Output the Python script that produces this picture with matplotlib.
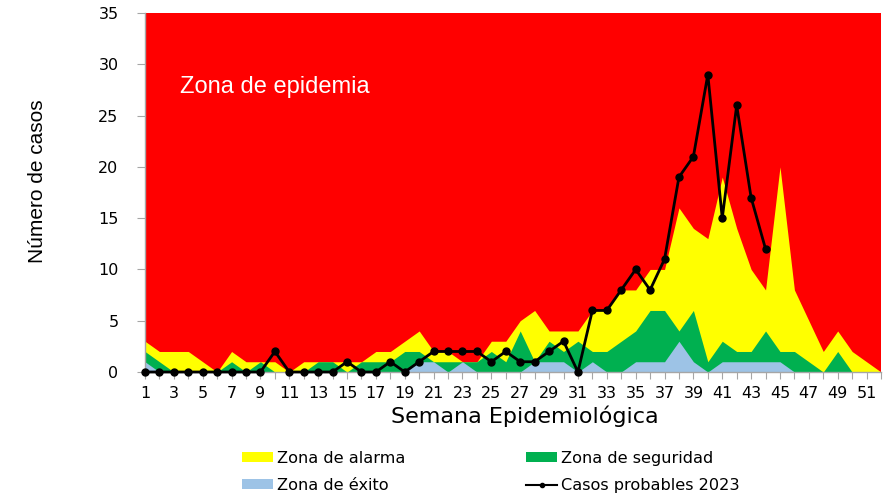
import numpy as np
import matplotlib
matplotlib.use("Agg")
import matplotlib.pyplot as plt
from matplotlib.patches import Patch
from matplotlib.lines import Line2D

# epidemiological weeks 1..52
semanas = np.arange(1, 53)

# upper limit of each zone of the endemic channel
zona_alarma = [3, 2, 2, 2, 1, 0, 2, 1, 1, 1, 0, 1, 1, 1, 1, 1, 2, 2, 3, 4,
               2, 2, 1, 1, 3, 3, 5, 6, 4, 4, 4, 6, 6, 8, 8, 10, 10, 16, 14, 13,
               19, 14, 10, 8, 20, 8, 5, 2, 4, 2, 1, 0]
zona_seguridad = [2, 1, 0, 0, 0, 0, 1, 0, 1, 0, 0, 0, 1, 1, 0, 1, 1, 1, 2, 2,
                  1, 1, 1, 1, 2, 1, 4, 1, 3, 2, 3, 2, 2, 3, 4, 6, 6, 4, 6, 1,
                  3, 2, 2, 4, 2, 2, 1, 0, 2, 0, 0, 0]
zona_exito = [1, 0, 0, 0, 0, 0, 0, 0, 0, 0, 0, 0, 0, 0, 0, 0, 0, 0, 0, 1,
              1, 0, 1, 0, 0, 0, 0, 1, 1, 1, 0, 1, 0, 0, 1, 1, 1, 3, 1, 0,
              1, 1, 1, 1, 1, 0, 0, 0, 0, 0, 0, 0]
techo_epidemia = 35

# probable cases 2023 (weeks 1..44)
semanas_2023 = np.arange(1, 45)
casos_2023 = [0, 0, 0, 0, 0, 0, 0, 0, 0, 2, 0, 0, 0, 0, 1, 0, 0, 1, 0, 1,
              2, 2, 2, 2, 1, 2, 1, 1, 2, 3, 0, 6, 6, 8, 10, 8, 11, 19, 21, 29,
              15, 26, 17, 12]

ROJO = "#FF0000"
AMARILLO = "#FFFF00"
VERDE = "#00B050"
AZUL = "#9DC3E6"
GRIS = "#A6A6A6"

fig = plt.figure(figsize=(8.94, 4.93), dpi=100)
ax = fig.add_axes([145 / 894, 1 - 372 / 493, 736 / 894, 359 / 493])

ax.fill_between(semanas, 0, techo_epidemia, color=ROJO, lw=0)
ax.fill_between(semanas, 0, zona_alarma, color=AMARILLO, lw=0)
ax.fill_between(semanas, 0, zona_seguridad, color=VERDE, lw=0)
ax.fill_between(semanas, 0, zona_exito, color=AZUL, lw=0)
ax.plot(semanas_2023, casos_2023, color="black", lw=2.0, marker="o",
        markersize=5, clip_on=False, zorder=5)

ax.set_xlim(1, 52)
ax.set_ylim(0, 35)
ax.set_yticks(range(0, 36, 5))
ax.set_xticks(semanas)
ax.set_xticklabels([str(s) if s % 2 == 1 else "" for s in semanas])

for side in ["top", "right"]:
    ax.spines[side].set_visible(False)
for side in ["left", "bottom"]:
    ax.spines[side].set_color(GRIS)
    ax.spines[side].set_linewidth(1.0)

ax.tick_params(axis="y", length=6, color=GRIS, pad=13, labelsize=11.5)
ax.tick_params(axis="x", length=5, color=GRIS, pad=5, labelsize=11.5)

ax.text(3.45, 27.8, "Zona de epidemia", color="white", fontsize=17,
        family="Liberation Sans", va="center", ha="left")

fig.text(38 / 894, 1 - 181 / 493, "Número de casos", rotation=90,
         ha="center", va="center", fontsize=15, family="Liberation Sans")
fig.text(525 / 894, 1 - 423 / 493, "Semana Epidemiológica",
         ha="center", va="baseline", fontsize=16)

handles = [
    Patch(facecolor=AMARILLO, label="Zona de alarma"),
    Patch(facecolor=AZUL, label="Zona de éxito"),
    Patch(facecolor=VERDE, label="Zona de seguridad"),
    Line2D([0], [0], color="black", lw=1.5, marker="o", markersize=3,
           label="Casos probables 2023"),
]
fig.legend(handles=handles, ncol=2, loc="center", frameon=False,
           bbox_to_anchor=(491 / 894, 1 - 472 / 493), fontsize=11.6,
           handlelength=1.9, handleheight=0.6, handletextpad=0.25,
           columnspacing=7.5, labelspacing=0.75)

fig.savefig("out.png", dpi=100)
